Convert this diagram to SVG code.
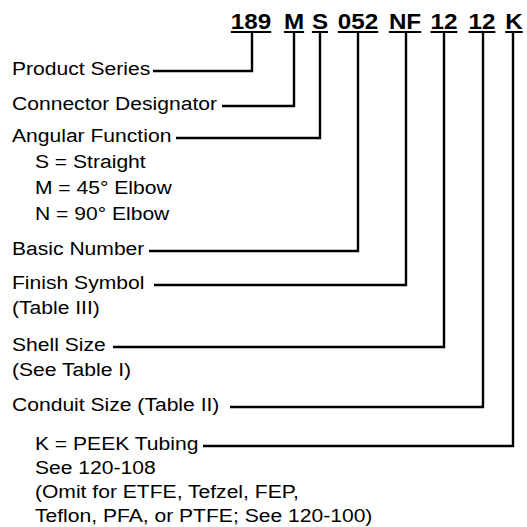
<svg xmlns="http://www.w3.org/2000/svg" width="527" height="527" viewBox="0 0 527 527">
<style>
.t{font-family:"Liberation Sans",Arial,sans-serif;font-size:19px;fill:#000}
.h{font-family:"Liberation Sans",Arial,sans-serif;font-size:22px;font-weight:bold;fill:#000;text-anchor:middle}
.c{fill:none;stroke:#000;stroke-width:2.4;stroke-linejoin:miter;stroke-linecap:butt}
</style>
<rect width="527" height="527" fill="#fff"/>
<g id="code">
<text class="h" transform="translate(251,29) scale(1.1,1)">189</text><rect x="230.8" y="31" width="40.4" height="2"/>
<text class="h" transform="translate(294,29) scale(1.1,1)">M</text><rect x="283.9" y="31" width="20.2" height="2"/>
<text class="h" transform="translate(320,29) scale(1.1,1)">S</text><rect x="311.9" y="31" width="16.2" height="2"/>
<text class="h" transform="translate(358,29) scale(1.1,1)">052</text><rect x="337.8" y="31" width="40.4" height="2"/>
<text class="h" transform="translate(405,29) scale(1.1,1)">NF</text><rect x="388.9" y="31" width="32.3" height="2"/>
<text class="h" transform="translate(444,29) scale(1.1,1)">12</text><rect x="430.5" y="31" width="26.9" height="2"/>
<text class="h" transform="translate(482,29) scale(1.1,1)">12</text><rect x="468.5" y="31" width="26.9" height="2"/>
<text class="h" transform="translate(514,29) scale(1.1,1)">K</text><rect x="505.2" y="31" width="17.5" height="2"/>
</g>
<g id="connectors">
<path class="c" d="M153,71 H252 V33"/>
<path class="c" d="M222,106 H294 V33"/>
<path class="c" d="M176,138 H320 V33"/>
<path class="c" d="M149,251 H358 V33"/>
<path class="c" d="M154,285 H406 V33"/>
<path class="c" d="M113,347 H444 V33"/>
<path class="c" d="M230,407 H483 V33"/>
<path class="c" d="M203,446 H513 V33"/>
</g>
<g transform="scale(1.11,1)">
<g id="product-series"><text class="t" x="10.8" y="75">Product Series</text></g>
<g id="connector-designator"><text class="t" x="10.8" y="110">Connector Designator</text></g>
<g id="angular-function"><text class="t" x="10.8" y="142">Angular Function</text>
<text class="t" x="31.5" y="168">S = Straight</text>
<text class="t" x="31.5" y="194">M = 45° Elbow</text>
<text class="t" x="31.5" y="220">N = 90° Elbow</text></g>
<g id="basic-number"><text class="t" x="10.8" y="255">Basic Number</text></g>
<g id="finish-symbol"><text class="t" x="10.8" y="289">Finish Symbol</text>
<text class="t" x="10.8" y="314">(Table III)</text></g>
<g id="shell-size"><text class="t" x="10.8" y="351">Shell Size</text>
<text class="t" x="10.8" y="376">(See Table I)</text></g>
<g id="conduit-size"><text class="t" x="10.8" y="411">Conduit Size (Table II)</text></g>
<g id="peek"><text class="t" x="31.5" y="450">K = PEEK Tubing</text>
<text class="t" x="31.5" y="474">See 120-108</text>
<text class="t" x="31.5" y="498">(Omit for ETFE, Tefzel, FEP,</text>
<text class="t" x="31.5" y="522">Teflon, PFA, or PTFE; See 120-100)</text></g>
</g>
</svg>
